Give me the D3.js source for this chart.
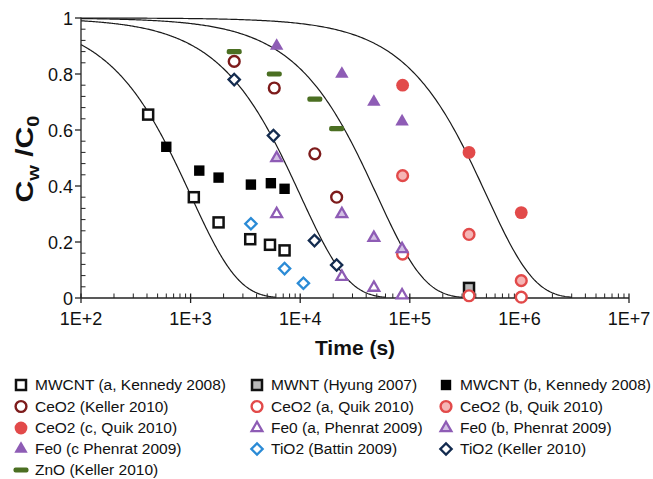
<!DOCTYPE html>
<html>
<head>
<meta charset="utf-8">
<script src="https://cdn.jsdelivr.net/npm/d3@7"></script>
<style>
  body { margin: 0; background: #fff; }
  svg text { font-family: "Liberation Sans", Arial, Helvetica, sans-serif; fill: #111; }
</style>
</head>
<body>
<div id="chart"></div>
<script>
// ---- data (time in s, Cw/C0) ----
const mwcntA   = [[410, 0.655], [1070, 0.36], [1800, 0.27], [3500, 0.21], [5300, 0.19], [7200, 0.17]];
const mwntHyung = [[347000, 0.036]];
const mwcntB   = [[600, 0.54], [1200, 0.455], [1800, 0.43], [3550, 0.405], [5400, 0.41], [7200, 0.39]];
const ceo2Keller = [[2500, 0.845], [5800, 0.75], [13600, 0.515], [21500, 0.36]];
const ceo2QuikA = [[86000, 0.157], [347000, 0.008], [1040000, 0.003]];
const ceo2QuikB = [[86000, 0.437], [347000, 0.227], [1040000, 0.062]];
const ceo2QuikC = [[86000, 0.76], [347000, 0.52], [1040000, 0.305]];
const fe0A = [[6100, 0.30], [24000, 0.076], [47000, 0.037], [85000, 0.01]];
const fe0B = [[6100, 0.50], [24000, 0.30], [47000, 0.215], [85000, 0.175]];
const fe0C = [[6100, 0.90], [24000, 0.80], [47000, 0.70], [85000, 0.63]];
const tio2Battin = [[3550, 0.265], [7200, 0.105], [10700, 0.053]];
const tio2Keller = [[2500, 0.78], [5700, 0.58], [13500, 0.205], [21500, 0.118]];
const znoKeller = [[2500, 0.88], [5800, 0.80], [13600, 0.71], [21500, 0.605]];

// first-order decay rate constants of the model curves (1/s)
const curveRates = [1e-3, 1e-4, 2e-5, 2e-6];

const xTicks = [1e2, 1e3, 1e4, 1e5, 1e6, 1e7];
const xTickLabels = ["1E+2", "1E+3", "1E+4", "1E+5", "1E+6", "1E+7"];
const yTicks = [0, 0.2, 0.4, 0.6, 0.8, 1];
const yTickLabels = ["0", "0.2", "0.4", "0.6", "0.8", "1"];

const series = [
  {name: "MWCNT (a, Kennedy 2008)", data: mwcntA, shape: "square", stroke: "#111", fill: "#fff"},
  {name: "MWNT (Hyung 2007)", data: mwntHyung, shape: "square", stroke: "#111", fill: "#b9b9b9"},
  {name: "MWCNT (b, Kennedy 2008)", data: mwcntB, shape: "squareFilled", stroke: "none", fill: "#000"},
  {name: "CeO2 (Keller 2010)", data: ceo2Keller, shape: "circle", stroke: "#7d1b1b", fill: "#fff"},
  {name: "CeO2 (a, Quik 2010)", data: ceo2QuikA, shape: "circle", stroke: "#e24a4a", fill: "#fff"},
  {name: "CeO2 (b, Quik 2010)", data: ceo2QuikB, shape: "circle", stroke: "#e24a4a", fill: "#f5b5b5"},
  {name: "CeO2 (c, Quik 2010)", data: ceo2QuikC, shape: "circleFilled", stroke: "none", fill: "#e24a4a"},
  {name: "Fe0 (a, Phenrat 2009)", data: fe0A, shape: "triangle", stroke: "#8e5cb5", fill: "#fff"},
  {name: "Fe0 (b, Phenrat 2009)", data: fe0B, shape: "triangle", stroke: "#8e5cb5", fill: "#d3c0e4"},
  {name: "Fe0 (c Phenrat 2009)", data: fe0C, shape: "triangleFilled", stroke: "none", fill: "#8e5cb5"},
  {name: "TiO2 (Battin 2009)", data: tio2Battin, shape: "diamond", stroke: "#2b8bd6", fill: "#fff"},
  {name: "TiO2 (Keller 2010)", data: tio2Keller, shape: "diamond", stroke: "#132b4f", fill: "#fff"},
  {name: "ZnO (Keller 2010)", data: znoKeller, shape: "bar", stroke: "none", fill: "#4b6f22"}
];

// ---- layout ----
const width = 653, height = 479;
const plot = {left: 81, right: 629, top: 18, bottom: 298};

const svg = d3.select("#chart").append("svg")
  .attr("width", width)
  .attr("height", height);

const x = d3.scaleLog().domain([1e2, 1e7]).range([plot.left, plot.right]);
const y = d3.scaleLinear().domain([0, 1]).range([plot.bottom, plot.top]);

// ---- model curves ----
const line = d3.line().x(d => x(d[0])).y(d => y(d[1]));
curveRates.forEach(k => {
  const tEnd = 6 / k;
  const pts = d3.range(0, 301).map(i => {
    const t = Math.pow(10, 2 + i / 300 * (Math.log10(tEnd) - 2));
    return [t, Math.exp(-k * t)];
  });
  svg.append("path")
    .attr("d", line(pts))
    .attr("fill", "none")
    .attr("stroke", "#1a1a1a")
    .attr("stroke-width", 1.2);
});

// ---- axes ----
const axisG = svg.append("g").attr("stroke", "#222").attr("stroke-width", 1.3);
axisG.append("line").attr("x1", plot.left).attr("x2", plot.left).attr("y1", plot.top - 0.5).attr("y2", plot.bottom);
axisG.append("line").attr("x1", plot.left).attr("x2", plot.right).attr("y1", plot.bottom).attr("y2", plot.bottom);

// x minor ticks (inward) and major ticks (crossing)
const xMinor = [];
for (let p = 2; p < 7; p++) for (let m = 2; m <= 9; m++) xMinor.push(m * Math.pow(10, p));
axisG.selectAll(".xminor").data(xMinor).enter().append("line")
  .attr("x1", d => x(d)).attr("x2", d => x(d))
  .attr("y1", plot.bottom).attr("y2", plot.bottom - 4.5)
  .attr("stroke-width", 1);
axisG.selectAll(".xmajor").data(xTicks).enter().append("line")
  .attr("x1", d => x(d)).attr("x2", d => x(d))
  .attr("y1", plot.bottom - 4.5).attr("y2", plot.bottom + 5);

// y minor ticks (inward) and major ticks (outward)
const yMinor = d3.range(0.04, 1, 0.04).filter(v => Math.abs(v / 0.2 - Math.round(v / 0.2)) > 0.01);
axisG.selectAll(".yminor").data(yMinor).enter().append("line")
  .attr("x1", plot.left).attr("x2", plot.left + 4.5)
  .attr("y1", d => y(d)).attr("y2", d => y(d))
  .attr("stroke-width", 1);
axisG.selectAll(".ymajor").data(yTicks).enter().append("line")
  .attr("x1", plot.left - 6).attr("x2", plot.left)
  .attr("y1", d => y(d)).attr("y2", d => y(d));

svg.selectAll(".xlab").data(xTicks).enter().append("text")
  .attr("x", d => x(d)).attr("y", 325)
  .attr("text-anchor", "middle")
  .attr("font-size", 18)
  .text((d, i) => xTickLabels[i]);

svg.selectAll(".ylab").data(yTicks).enter().append("text")
  .attr("x", 73).attr("y", d => y(d) + 6.5)
  .attr("text-anchor", "end")
  .attr("font-size", 18)
  .text((d, i) => yTickLabels[i]);

// axis titles
svg.append("text")
  .attr("x", (plot.left + plot.right) / 2).attr("y", 355)
  .attr("text-anchor", "middle")
  .attr("font-size", 21).attr("font-weight", "bold")
  .text("Time (s)");

const yTitle = svg.append("text")
  .attr("font-size", 24).attr("font-weight", "bold")
  .attr("text-anchor", "middle");
yTitle.append("tspan").text("C");
yTitle.append("tspan").attr("font-size", 16).attr("dy", 6).text("w");
yTitle.append("tspan").attr("dy", -6).text(" /C");
yTitle.append("tspan").attr("font-size", 16).attr("dy", 6).text("0");
const yTitleLen = yTitle.node().getComputedTextLength();
yTitle.attr("transform", `translate(33,${(plot.top + plot.bottom) / 2 + 1}) rotate(-90) scale(${87 / yTitleLen},1)`);

// ---- markers ----
function drawMarker(g, s) {
  if (s.shape === "square") {
    g.append("rect").attr("x", -5).attr("y", -5).attr("width", 10).attr("height", 10)
      .attr("fill", s.fill).attr("stroke", s.stroke).attr("stroke-width", 2.5);
  } else if (s.shape === "squareFilled") {
    g.append("rect").attr("x", -5.2).attr("y", -5.2).attr("width", 10.4).attr("height", 10.4)
      .attr("fill", s.fill);
  } else if (s.shape === "circle") {
    g.append("circle").attr("r", 5.4)
      .attr("fill", s.fill).attr("stroke", s.stroke).attr("stroke-width", 2.4);
  } else if (s.shape === "circleFilled") {
    g.append("circle").attr("r", 6.4).attr("fill", s.fill);
  } else if (s.shape === "triangle") {
    g.append("path").attr("d", d3.symbol(d3.symbolTriangle, 50)())
      .attr("fill", s.fill).attr("stroke", s.stroke).attr("stroke-width", 2.3)
      .attr("stroke-linejoin", "miter");
  } else if (s.shape === "triangleFilled") {
    g.append("path").attr("d", d3.symbol(d3.symbolTriangle, 78)()).attr("fill", s.fill);
  } else if (s.shape === "diamond") {
    g.append("rect").attr("x", -4).attr("y", -4).attr("width", 8).attr("height", 8)
      .attr("transform", "rotate(45)")
      .attr("fill", s.fill).attr("stroke", s.stroke).attr("stroke-width", 2.3);
  } else if (s.shape === "bar") {
    g.append("rect").attr("x", -7.5).attr("y", -2.6).attr("width", 15).attr("height", 5.2)
      .attr("rx", 2).attr("fill", s.fill);
  }
}

const pointsG = svg.append("g");
series.forEach(s => {
  s.data.forEach(d => {
    const g = pointsG.append("g").attr("transform", `translate(${x(d[0])},${y(d[1])})`);
    drawMarker(g, s);
  });
});

// ---- legend ----
const legendCols = [21, 257, 446];
const legendRows = [385, 406.5, 428, 449, 470];
series.forEach((s, i) => {
  const cx = legendCols[i % 3], cy = legendRows[Math.floor(i / 3)];
  const g = svg.append("g").attr("transform", `translate(${cx},${cy})`);
  drawMarker(g, s);
  svg.append("text")
    .attr("x", cx + 14).attr("y", cy + 5.2)
    .attr("font-size", 15.5)
    .text(s.name);
});
</script>
</body>
</html>
